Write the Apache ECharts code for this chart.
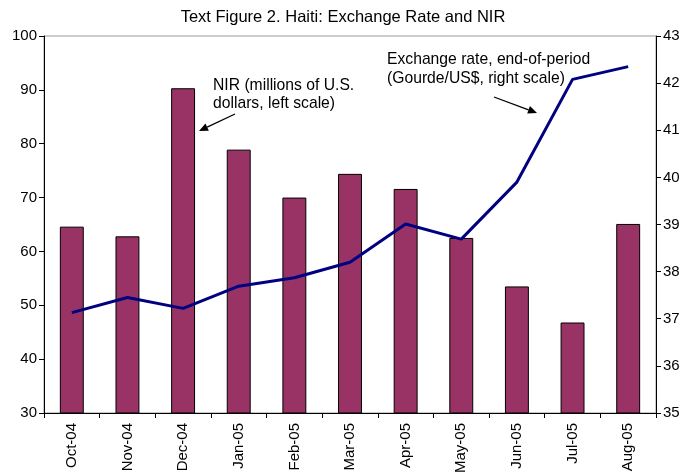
<!DOCTYPE html>
<html>
<head>
<meta charset="UTF-8">
<title>Haiti: Exchange Rate and NIR</title>
<style type="text/css">
  body { margin: 0; background: #fff; }
  #chart { width: 686px; height: 476px; }
</style>
</head>
<body>
<div id="chart"></div>
<script src="https://cdn.jsdelivr.net/npm/echarts@6/dist/echarts.min.js"></script>
<script type="text/javascript">
// data
var months = ['Oct-04', 'Nov-04', 'Dec-04', 'Jan-05', 'Feb-05', 'Mar-05',
              'Apr-05', 'May-05', 'Jun-05', 'Jul-05', 'Aug-05'];
var nir = [64.6, 62.8, 90.3, 78.9, 70.0, 74.4, 71.6, 62.5, 53.5, 46.8, 65.1];
var exchangeRate = [37.13, 37.45, 37.22, 37.69, 37.87, 38.20, 39.01, 38.69, 39.90, 42.08, 42.35];

var font = '"Liberation Sans", Arial, sans-serif';

function arrow(x1, y1, x2, y2) {
  // line with a small filled head at (x2, y2)
  var a = Math.atan2(y2 - y1, x2 - x1), len = 9, w = 4;
  var bx = x2 - len * Math.cos(a), by = y2 - len * Math.sin(a);
  var px = -Math.sin(a) * w, py = Math.cos(a) * w;
  return [
    { type: 'line', shape: { x1: x1, y1: y1, x2: bx, y2: by }, style: { stroke: '#000', lineWidth: 1.3 } },
    { type: 'polygon', shape: { points: [[x2, y2], [bx + px, by + py], [bx - px, by - py]] }, style: { fill: '#000' } }
  ];
}

var myChart = echarts.init(document.getElementById('chart'));
var option = {
  animation: false,
  textStyle: { fontFamily: font },
  title: {
    text: 'Text Figure 2. Haiti: Exchange Rate and NIR',
    left: 'center',
    top: 4,
    textStyle: { fontFamily: font, fontSize: 16.5, fontWeight: 'normal', color: '#000' }
  },
  grid: { left: 44, right: 30, top: 36, bottom: 63, show: true, borderColor: '#999', borderWidth: 1 },
  xAxis: {
    type: 'category',
    data: months,
    axisLine: { lineStyle: { color: '#000' } },
    axisTick: { show: true, alignWithLabel: false, length: 5, lineStyle: { color: '#000' } },
    axisLabel: { rotate: 90, fontSize: 15, color: '#000', margin: 10, fontFamily: font }
  },
  yAxis: [
    {
      type: 'value', min: 30, max: 100, interval: 10,
      axisLine: { show: true, lineStyle: { color: '#000' } },
      axisTick: { show: true, length: 5, lineStyle: { color: '#000' } },
      axisLabel: { fontSize: 15, color: '#000', margin: 7, fontFamily: font },
      splitLine: { show: false }
    },
    {
      type: 'value', min: 35, max: 43, interval: 1,
      axisLine: { show: true, lineStyle: { color: '#000' } },
      axisTick: { show: true, length: 5, lineStyle: { color: '#000' } },
      axisLabel: { fontSize: 15, color: '#000', margin: 7, fontFamily: font },
      splitLine: { show: false }
    }
  ],
  series: [
    {
      name: 'NIR',
      type: 'bar',
      yAxisIndex: 0,
      data: nir,
      barWidth: '43%',
      itemStyle: { color: '#993366', borderColor: '#000', borderWidth: 1 }
    },
    {
      name: 'Exchange rate',
      type: 'line',
      yAxisIndex: 1,
      data: exchangeRate,
      symbol: 'none',
      lineStyle: { color: '#000080', width: 3 },
      z: 3
    }
  ],
  graphic: [
    { type: 'text', left: 213, top: 76, style: { text: 'NIR (millions of U.S.\ndollars, left scale)', font: '15.7px ' + font, fill: '#000', lineHeight: 18.5 } },
    { type: 'text', left: 387, top: 50, style: { text: 'Exchange rate, end-of-period\n(Gourde/US$, right scale)', font: '15.7px ' + font, fill: '#000', lineHeight: 19 } }
  ].concat(arrow(235, 114, 199, 131)).concat(arrow(494, 97, 537, 113))
};
myChart.setOption(option);
</script>
</body>
</html>
